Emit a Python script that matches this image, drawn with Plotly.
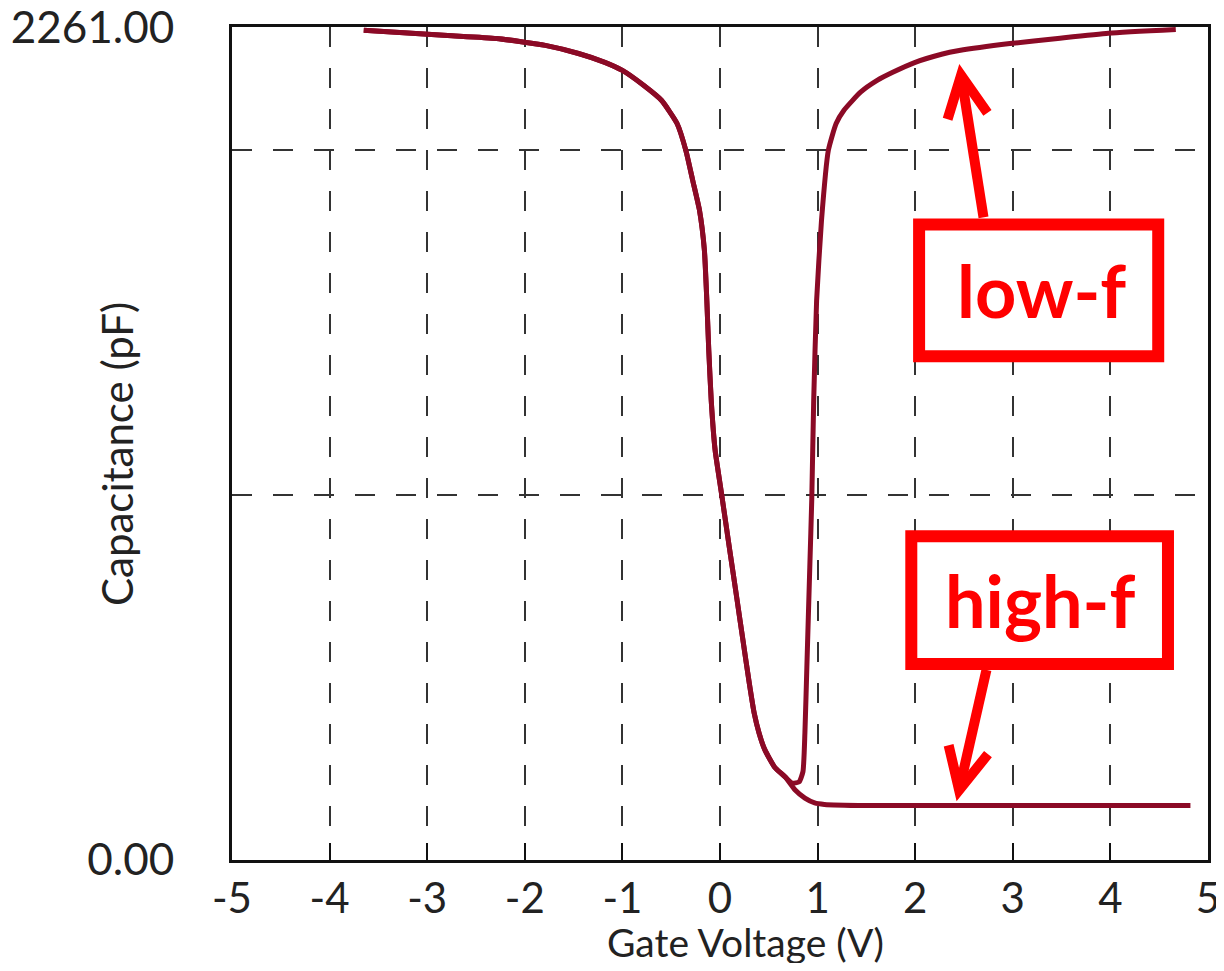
import math
import plotly.graph_objects as go

# ---------------- data ----------------
x_low = [-3.65, -2.79, -2.29, -1.79, -1.45, -1.18, -1.0, -0.78, -0.6, -0.44, -0.35, -0.28,
         -0.21, -0.16, -0.135, -0.115, -0.09, -0.05, 0.015, 0.10, 0.175, 0.235, 0.30,
         0.35, 0.40, 0.46, 0.56, 0.67, 0.74, 0.81, 0.85, 0.87, 0.89, 0.92, 0.94,
         0.96, 0.99, 1.04, 1.11, 1.19, 1.27, 1.44, 1.61, 1.77, 2.0, 2.27, 2.45,
         2.97, 3.46, 3.98, 4.67]
c_low = [2253, 2239, 2231, 2212, 2190, 2166, 2144, 2103, 2063, 2000, 1927, 1846,
         1764, 1656, 1520, 1384, 1248, 1113, 996, 841, 706, 597, 480,
         399, 345, 299, 252, 225, 209, 212, 240, 345, 524, 795, 977,
         1248, 1520, 1737, 1927, 2000, 2036, 2085, 2117, 2139, 2166, 2188, 2198,
         2217, 2231, 2245, 2255]

x_high = [-3.65, -2.79, -2.29, -1.79, -1.45, -1.18, -1.0, -0.78, -0.6, -0.44, -0.35, -0.28,
          -0.21, -0.16, -0.135, -0.115, -0.09, -0.05, 0.015, 0.10, 0.175, 0.235, 0.30,
          0.35, 0.40, 0.46, 0.56, 0.67, 0.77, 0.87, 0.97, 1.07, 1.5, 2.5, 3.5, 4.82]
c_high = [2253, 2239, 2231, 2212, 2190, 2166, 2144, 2103, 2063, 2000, 1927, 1846,
          1764, 1656, 1520, 1384, 1248, 1113, 996, 841, 706, 597, 480,
          399, 345, 299, 252, 225, 190, 168, 155, 151, 148, 148, 148, 148]

x_ticks = [-5, -4, -3, -2, -1, 0, 1, 2, 3, 4, 5]
x_tick_text = ["-5", "-4", "-3", "-2", "-1", "0", "1", "2", "3", "4", "5"]
y_ticks = [0, 991, 1927, 2261]
y_tick_text = ["0.00", "", "", "2261.00"]

labels = ["low-f", "high-f"]
label_boxes = [(2.04, 4.49, 1368, 1726), (1.96, 4.59, 532, 879)]
label_centers = [(3.29, 1547), (3.28, 706)]
arrow_tips = [(2.47, 2131), (2.45, 190)]
arrow_tails = [(2.70, 1745), (2.73, 516)]

# ---------------- layout geometry ----------------
OFF = 8  # page body margin (kept so the page needs no scrollbar)
X_RANGE = [-5, 5]
Y_RANGE = [0, 2262]
W, H = 1224 - OFF, 971 - 2 * OFF
ML, MR, MT = 232 - OFF, 16, 27 - OFF
MB = H - (860 - OFF)
PW, PH = W - ML - MR, H - MT - MB
sx = PW / (X_RANGE[1] - X_RANGE[0])
sy = PH / (Y_RANGE[1] - Y_RANGE[0])


def paper_x(px):
    return (px - OFF - ML) / PW


def paper_y(py):
    return (H - MB - (py - OFF)) / PH


CURVE = "#8b0a26"
RED = "#ff0000"
FONT = "Lato"

fig = go.Figure()
fig.add_trace(go.Scatter(x=x_high, y=c_high, mode="lines", name="high-f",
                         line=dict(color=CURVE, width=5, shape="spline", smoothing=0.5)))
fig.add_trace(go.Scatter(x=x_low, y=c_low, mode="lines", name="low-f",
                         line=dict(color=CURVE, width=5, shape="spline", smoothing=0.5)))

shapes = []
# arrows
for (tx, ty), (bx, by) in zip(arrow_tips, arrow_tails):
    shapes.append(dict(type="line", xref="x", yref="y", x0=bx, y0=by, x1=tx, y1=ty,
                       line=dict(color=RED, width=10), layer="above"))
    dx = (bx - tx) * sx
    dy = -(by - ty) * sy
    n = math.hypot(dx, dy)
    ux, uy = dx / n, dy / n
    pts = []
    for sgn in (1, -1):
        a = math.radians(26) * sgn
        rx = ux * math.cos(a) - uy * math.sin(a)
        ry = ux * math.sin(a) + uy * math.cos(a)
        pts.append((tx + rx * 46 / sx, ty - ry * 46 / sy))
    path = f"M {pts[0][0]},{pts[0][1]} L {tx},{ty} L {pts[1][0]},{pts[1][1]}"
    shapes.append(dict(type="path", xref="x", yref="y", path=path,
                       line=dict(color=RED, width=10), layer="above"))
# boxes
for (x0, x1, y0, y1) in label_boxes:
    shapes.append(dict(type="rect", xref="x", yref="y", x0=x0, x1=x1, y0=y0, y1=y1,
                       line=dict(color=RED, width=12), fillcolor="white", layer="above"))

annotations = []
for lab, (cx, cy) in zip(labels, label_centers):
    annotations.append(dict(x=cx, y=cy, xref="x", yref="y", text=f"<b>{lab}</b>",
                            showarrow=False, font=dict(family=FONT, size=72, color=RED),
                            xanchor="center", yanchor="middle"))
annotations.append(dict(x=paper_x(745), y=paper_y(942), xref="paper", yref="paper",
                        text="Gate Voltage (V)", showarrow=False,
                        font=dict(family=FONT, size=39, color="#222"),
                        xanchor="center", yanchor="middle"))
annotations.append(dict(x=paper_x(117), y=paper_y(454), xref="paper", yref="paper",
                        text="Capacitance (pF)", showarrow=False, textangle=-90,
                        font=dict(family=FONT, size=42, color="#222"),
                        xanchor="center", yanchor="middle"))

fig.update_layout(
    width=W, height=H,
    margin=dict(l=ML, r=MR, t=MT, b=MB, autoexpand=False),
    paper_bgcolor="white", plot_bgcolor="white",
    showlegend=False,
    shapes=shapes, annotations=annotations,
    font=dict(family=FONT, color="#222"),
)
fig.update_xaxes(range=X_RANGE, tickvals=x_ticks, ticktext=x_tick_text,
                 ticks="inside", ticklen=17, tickwidth=2,
                 tickcolor="#111", showline=True, linewidth=3, linecolor="#111", mirror=True,
                 showgrid=True, gridcolor="#333", gridwidth=2, griddash="20px,21px",
                 zeroline=False, tickfont=dict(family=FONT, size=42, color="#222"),
                 ticklabelstandoff=0, ticklabeloverflow="allow", automargin=False)
fig.update_yaxes(range=Y_RANGE, tickvals=y_ticks, ticktext=y_tick_text, ticks="",
                 showline=True, linewidth=3, linecolor="#111", mirror=True,
                 showgrid=True, gridcolor="#333", gridwidth=2, griddash="20px,21px",
                 zeroline=False, tickfont=dict(family=FONT, size=44, color="#222"),
                 ticklabelstandoff=46, ticklabeloverflow="allow", automargin=False)

fig.write_html("out.html")
